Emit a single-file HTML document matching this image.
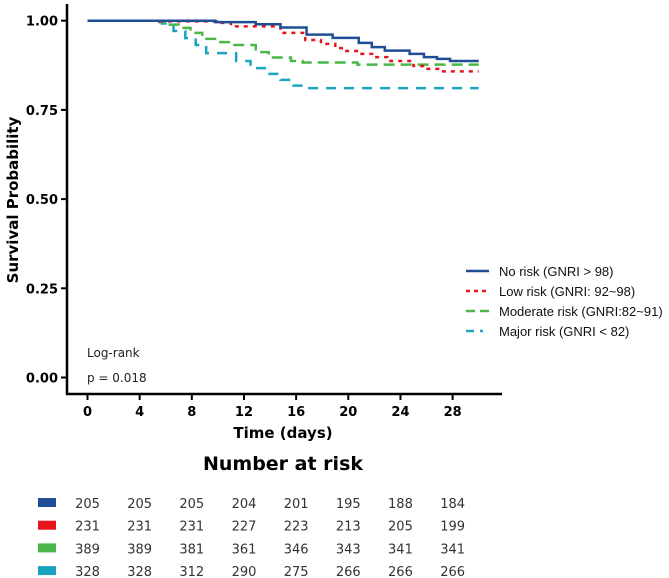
<!DOCTYPE html>
<html><head><meta charset="utf-8"><style>
body{margin:0;background:#fff;}
svg{display:block;}
</style></head><body>
<svg id="chart" width="669" height="578" xmlns="http://www.w3.org/2000/svg"></svg>
<script>
const days=[0,4,8,12,16,20,24,28];
const yTicks=[0,0.25,0.5,0.75,1.0];
const yTickLabels=["0.00","0.25","0.50","0.75","1.00"];
const seriesNames=["No risk (GNRI > 98)","Low risk (GNRI: 92~98)","Moderate risk (GNRI:82~91)","Major risk (GNRI < 82)"];
const blueT=[0,9.8,12.9,14.8,16.8,18.8,20.8,21.8,22.8,24.7,25.8,26.8,27.8];
const blueS=[1,0.996,0.990,0.981,0.961,0.952,0.938,0.926,0.916,0.907,0.898,0.893,0.887];
const redT=[0,5.5,9.9,11,14.8,16.7,17.9,19,19.7,20.8,22,23,25,25.9,27];
const redS=[1,0.998,0.994,0.984,0.966,0.946,0.935,0.923,0.915,0.907,0.898,0.887,0.873,0.865,0.858];
const greenT=[0,5.5,6.2,7,7.9,8.8,9.9,11,12.9,13.9,15.6,16.5,20.7];
const greenS=[1,0.996,0.989,0.980,0.966,0.949,0.940,0.932,0.912,0.897,0.887,0.883,0.877];
const cyanT=[0,5.7,6.6,7.5,8.3,9.1,11.4,12.5,13.6,14.8,15.8,16.7];
const cyanS=[1,0.992,0.971,0.951,0.932,0.909,0.887,0.867,0.851,0.834,0.818,0.811];
const endDay=30;
const riskBlue=[205,205,205,204,201,195,188,184];
const riskRed=[231,231,231,227,223,213,205,199];
const riskGreen=[389,389,381,361,346,343,341,341];
const riskCyan=[328,328,312,290,275,266,266,266];

const NS="http://www.w3.org/2000/svg";
const svg=document.getElementById('chart');
const X=d=>87.5+d*13.04;
const Y=s=>377.5-s*356.8;
function mk(tag,attrs,parent){const e=document.createElementNS(NS,tag);for(const k in attrs)e.setAttribute(k,attrs[k]);(parent||svg).appendChild(e);return e;}
const F='"DejaVu Sans","Liberation Sans",sans-serif';

let yAxis=mk('line',{x1:67,y1:4,x2:67,y2:395,stroke:'#000','stroke-width':2.5});


let xAxis=mk('line',{x1:66,y1:394,x2:502,y2:394,stroke:'#000','stroke-width':2.5});


yTicks.forEach((v,i)=>{
  const t=mk('line',{x1:61,x2:67,y1:Y(v),y2:Y(v),stroke:'#000','stroke-width':2});
  
  
  const l=mk('text',{x:58,y:Y(v)+5,'text-anchor':'end','font-family':F,'font-weight':'bold','font-size':13});
  l.textContent=yTickLabels[i];
  
  
});
days.forEach(d=>{
  const t=mk('line',{x1:X(d),x2:X(d),y1:394,y2:400,stroke:'#000','stroke-width':2});
  
  
  const l=mk('text',{x:X(d),y:416,'text-anchor':'middle','font-family':F,'font-weight':'bold','font-size':13});
  l.textContent=d;
  
  
});
let yt=mk('text',{x:0,y:0,transform:'translate(18,200) rotate(-90)','text-anchor':'middle','font-family':F,'font-weight':'bold','font-size':15});
yt.textContent='Survival Probability';


let xt=mk('text',{x:283,y:438,'text-anchor':'middle','font-family':F,'font-weight':'bold','font-size':15});
xt.textContent='Time (days)';


let lr=mk('text',{x:87,y:357,'font-family':F,'font-size':12,fill:'#222'});
lr.textContent='Log-rank';


let pv=mk('text',{x:87,y:382,'font-family':F,'font-size':12,fill:'#222'});
pv.textContent='p = 0.018';



const styles=[
 {c:'#1f4e96',dash:'',w:2.5,T:blueT,S:blueS,n:'curve-no-risk'},
 {c:'#e8141c',dash:'4 5',w:2.5,T:redT,S:redS,n:'curve-low-risk'},
 {c:'#4cb748',dash:'11 6',w:2.5,T:greenT,S:greenS,n:'curve-moderate-risk'},
 {c:'#1aa3c0',dash:'10 8',w:2.5,T:cyanT,S:cyanS,n:'curve-major-risk'}
];
[3,2,1,0].forEach(i=>{
  const st=styles[i];
  let d='M'+X(st.T[0])+' '+Y(st.S[0]);
  for(let k=1;k<st.T.length;k++){d+=' H'+X(st.T[k])+' V'+Y(st.S[k]);}
  d+=' H'+X(endDay);
  const p=mk('path',{d:d,fill:'none',stroke:st.c,'stroke-width':st.w,'stroke-dasharray':st.dash});
  
  
});
styles.forEach((st,i)=>{
  const y=271+i*20;
  const ln=mk('line',{x1:466,x2:489,y1:y,y2:y,stroke:st.c,'stroke-width':2.5,'stroke-dasharray':i==1?'4 4':(i==2?'9 5':(i==3?'8 6 3 6':''))});
  
  
  const t=mk('text',{x:499,y:y+5,'font-family':'"Liberation Sans",sans-serif','font-size':13,fill:'#111'});
  t.textContent=seriesNames[i];
  
  
});
let nt=mk('text',{x:283,y:470,'text-anchor':'middle','font-family':F,'font-weight':'bold','font-size':19});
nt.textContent='Number at risk';


const rows=[riskBlue,riskRed,riskGreen,riskCyan];
rows.forEach((r,i)=>{
  const y=503+i*22.7;
  const sw=mk('rect',{x:38,y:y-5,width:18,height:9,fill:styles[i].c});
  
  
  r.forEach((v,j)=>{
    const t=mk('text',{x:X(days[j]),y:y+5,'text-anchor':'middle','font-family':F,'font-size':13,fill:'#333'});
    t.textContent=v;
    
    
  });
});
</script>
</body></html>
